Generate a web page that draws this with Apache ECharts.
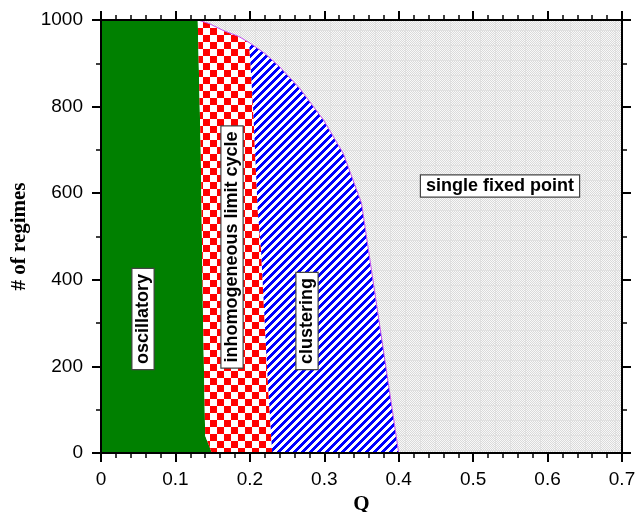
<!DOCTYPE html>
<html>
<head>
<meta charset="utf-8">
<script src="https://cdn.jsdelivr.net/npm/echarts@6/dist/echarts.min.js"></script>
<style>
  html, body { margin: 0; padding: 0; background: #fff; }
  #chart { width: 637px; height: 512px; }
</style>
</head>
<body>
<div id="chart"></div>
<script>
const chartDom = document.getElementById('chart');
const myChart = echarts.init(chartDom);

// region boundaries, as [Q, # of regimes]
const oscEdge = [[0.130, 1000], [0.134, 700], [0.137, 320], [0.140, 40], [0.149, 0]];
const limitEdge = [[0.199, 948], [0.2045, 792], [0.2105, 561], [0.215, 470], [0.223, 200], [0.230, 0]];
const clusterEdge = [[0.130, 1000], [0.145, 992], [0.164, 976], [0.185, 962], [0.199, 948], [0.220, 923],
    [0.240, 892], [0.267, 842], [0.299, 769], [0.3255, 692], [0.350, 577], [0.400, 0]];
const qRange = [0, 0.7];
const nRange = [0, 1000];
const regionNames = ['oscillatory', 'inhomogeneous limit cycle', 'clustering', 'single fixed point'];

function makePattern(w, h, draw) {
    const cv = document.createElement('canvas');
    cv.width = w;
    cv.height = h;
    draw(cv.getContext('2d'), w, h);
    return { image: cv, repeat: 'repeat' };
}

const checker = makePattern(14, 14, (ctx) => {
    ctx.fillStyle = '#ffffff';
    ctx.fillRect(0, 0, 14, 14);
    ctx.fillStyle = '#ff0000';
    ctx.fillRect(0, 0, 7, 7);
    ctx.fillRect(7, 7, 7, 7);
});

const stripes = makePattern(8, 8, (ctx) => {
    for (let x = 0; x < 8; x++) {
        for (let y = 0; y < 8; y++) {
            ctx.fillStyle = ((x + y) % 8) < 4 ? '#0000ff' : '#ffffff';
            ctx.fillRect(x, y, 1, 1);
        }
    }
});

const dotted = makePattern(15, 15, (ctx) => {
    for (let x = 0; x < 15; x++) {
        for (let y = 0; y < 15; y++) {
            ctx.fillStyle = ((x + y) % 2) ? '#dadada' : '#f8f8f8';
            if (x === 0 || y === 0) ctx.fillStyle = '#e0e0e0';
            ctx.fillRect(x, y, 1, 1);
        }
    }
});

const splitIdx = clusterEdge.findIndex(p => p[0] === limitEdge[0][0]);
const polygons = [
    [[qRange[0], nRange[1]], ...oscEdge, [qRange[0], nRange[0]]],
    [...clusterEdge.slice(0, splitIdx + 1), ...limitEdge.slice(1), ...oscEdge.slice().reverse()],
    [...limitEdge, ...clusterEdge.slice(splitIdx).reverse()],
    [...clusterEdge, [qRange[1], nRange[0]], [qRange[1], nRange[1]]]
];
const fills = ['#008000', checker, stripes, dotted];

const regionSeries = polygons.map((poly, i) => ({
    type: 'custom',
    name: regionNames[i],
    silent: true,
    data: [[0, 0]],
    renderItem: function (params, api) {
        return {
            type: 'polygon',
            shape: { points: poly.map(p => api.coord(p)) },
            style: { fill: fills[i], stroke: null }
        };
    },
    z: 1
}));

const tickFont = { fontFamily: 'Liberation Sans, Arial, sans-serif', fontSize: 19, color: '#000' };
const nameFont = { fontFamily: 'Liberation Serif, Times New Roman, serif', fontSize: 21, fontWeight: 'bold', color: '#000' };

function axisCommon(extra) {
    return Object.assign({
        type: 'value',
        axisLine: { show: true, onZero: false, lineStyle: { color: '#000', width: 2 } },
        axisTick: { show: true, length: 9, lineStyle: { color: '#000', width: 2 } },
        minorTick: { show: true, length: 5, lineStyle: { color: '#000', width: 1.5 } },
        splitLine: { show: false },
        z: 10
    }, extra);
}

function boxLabel(text, x, y, rotate) {
    return {
        type: 'text',
        x: x,
        y: y,
        rotation: rotate ? Math.PI / 2 : 0,
        z: 100,
        style: {
            text: text,
            fontFamily: 'Liberation Sans, Arial, sans-serif',
            fontSize: 18,
            fontWeight: 'bold',
            fill: '#000',
            align: 'center',
            verticalAlign: 'middle',
            backgroundColor: '#fff',
            borderColor: '#444',
            borderWidth: 1.2,
            padding: [2, 5, 1, 5]
        }
    };
}

const option = {
    animation: false,
    grid: { left: 101, right: 15, top: 20, bottom: 59, outerBoundsMode: 'none', containLabel: false },
    xAxis: [
        axisCommon({
            min: qRange[0], max: qRange[1], interval: 0.1, position: 'bottom',
            minorTick: { show: true, splitNumber: 5, length: 5, lineStyle: { color: '#000', width: 1.5 } },
            axisLabel: Object.assign({ margin: 17, formatter: v => (v === 0 ? '0' : v.toFixed(1)) }, tickFont),
            name: 'Q', nameLocation: 'middle', nameGap: 37, nameTextStyle: nameFont
        }),
        axisCommon({
            min: qRange[0], max: qRange[1], interval: 0.1, position: 'top',
            minorTick: { show: true, splitNumber: 5, length: 5, lineStyle: { color: '#000', width: 1.5 } },
            axisLabel: { show: false }
        })
    ],
    yAxis: [
        axisCommon({
            min: nRange[0], max: nRange[1], interval: 200, position: 'left',
            minorTick: { show: true, splitNumber: 2, length: 5, lineStyle: { color: '#000', width: 1.5 } },
            axisLabel: Object.assign({ margin: 18, formatter: v => String(v) }, tickFont),
            name: '# of regimes', nameLocation: 'middle', nameGap: 68, nameTextStyle: nameFont
        }),
        axisCommon({
            min: nRange[0], max: nRange[1], interval: 200, position: 'right',
            minorTick: { show: true, splitNumber: 2, length: 5, lineStyle: { color: '#000', width: 1.5 } },
            axisLabel: { show: false }
        })
    ],
    series: regionSeries.concat([{
        type: 'line',
        data: clusterEdge,
        symbol: 'none',
        silent: true,
        lineStyle: { color: '#c050f0', width: 1 },
        z: 2
    }]),
    graphic: [
        boxLabel(regionNames[0], 143, 319, true),
        boxLabel(regionNames[1], 232, 247, true),
        boxLabel(regionNames[2], 307, 321, true),
        boxLabel(regionNames[3], 500, 186, false)
    ]
};

myChart.setOption(option);
</script>
</body>
</html>
